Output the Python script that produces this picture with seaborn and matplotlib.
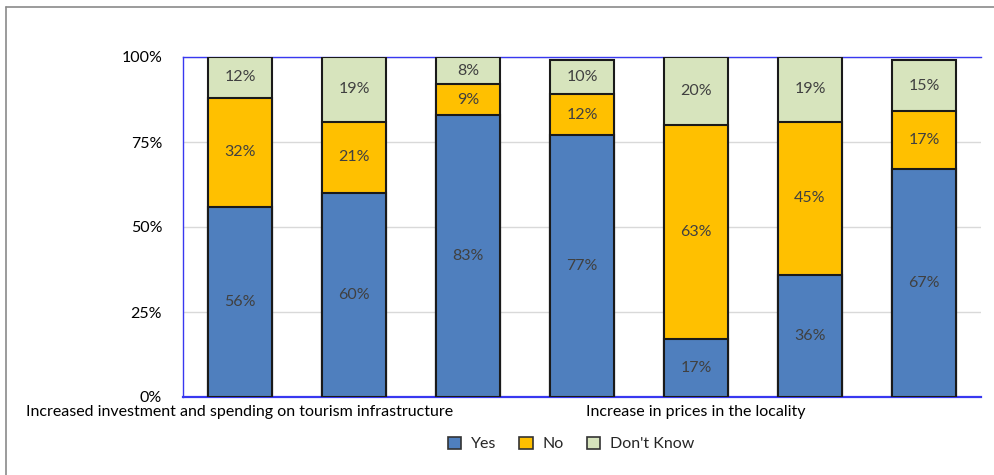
import matplotlib
matplotlib.use("Agg")
import matplotlib.pyplot as plt
from matplotlib.lines import Line2D
from matplotlib.patches import Patch
import seaborn as sns
import pandas as pd

# Survey responses per statement (percent)
statements = [
    "Increased investment and spending on tourism infrastructure",
    "Statement 2",
    "Statement 3",
    "Statement 4",
    "Increase in prices in the locality",
    "Statement 6",
    "Statement 7",
]
tick_labels = [
    "Increased investment and spending on tourism infrastructure",
    "", "", "",
    "Increase in prices in the locality",
    "", "",
]
yes = [56, 60, 83, 77, 17, 36, 67]
no = [32, 21, 9, 12, 63, 45, 17]
dont_know = [12, 19, 8, 10, 20, 19, 15]

series_names = ["Yes", "No", "Don't Know"]
colors = {"Yes": "#4F7FBE", "No": "#FFC000", "Don't Know": "#D7E4BD"}

df = pd.DataFrame({"statement": statements, "Yes": yes, "No": no, "Don't Know": dont_know})
df["cum_yes"] = df["Yes"]
df["cum_no"] = df["Yes"] + df["No"]
df["cum_dk"] = df["Yes"] + df["No"] + df["Don't Know"]

sns.set_theme(style="white")
plt.rcParams["font.family"] = ["Lato", "DejaVu Sans"]

fig = plt.figure(figsize=(9.94, 4.75), dpi=100)
ax = fig.add_axes([183 / 994, 1 - 397 / 475, (981 - 183) / 994, (397 - 57) / 475])

# Stacked bars: draw cumulative totals from the top segment down
for col, name in [("cum_dk", "Don't Know"), ("cum_no", "No"), ("cum_yes", "Yes")]:
    sns.barplot(data=df, x="statement", y=col, order=statements, color=colors[name],
                width=0.57, edgecolor="#1a1a1a", linewidth=1.5, saturation=1,
                ax=ax, zorder=3)

# Segment value labels
for i in range(len(statements)):
    base = 0
    for name in series_names:
        v = df.loc[i, name]
        ax.text(i, base + v / 2, f"{v}%", ha="center", va="center",
                fontsize=11.5, color="#404040", zorder=5)
        base += v

ax.set_ylim(0, 100)
ax.set_xlim(-0.5, len(statements) - 0.5)
ax.set_yticks([0, 25, 50, 75, 100])
ax.set_yticklabels(["0%", "25%", "50%", "75%", "100%"], fontsize=11.5, color="#000000")
ax.set_xticks(range(len(statements)))
ax.set_xticklabels(tick_labels, fontsize=11.5, color="#000000")
ax.tick_params(axis="y", length=0, pad=15)
ax.tick_params(axis="x", length=0, pad=6)
ax.set_xlabel("")
ax.set_ylabel("")

ax.yaxis.grid(True, color="#d9d9d9", linewidth=1, zorder=0)
ax.set_axisbelow(True)
for side in ["left", "top"]:
    ax.spines[side].set_color("#3838F0")
    ax.spines[side].set_linewidth(1.0)
ax.spines["bottom"].set_color("#3838F0")
ax.spines["bottom"].set_linewidth(1.6)
ax.spines["right"].set_visible(False)

handles = [Patch(facecolor=colors[n], edgecolor="#333333", linewidth=1.2, label=n) for n in series_names]
fig.legend(handles=handles, loc="center", bbox_to_anchor=(571 / 994, 1 - 444 / 475), ncol=3,
           frameon=False, fontsize=11.5, handlelength=0.85, handleheight=0.85,
           columnspacing=1.45, handletextpad=0.6)

# Figure frame on the left and top
fig.add_artist(Line2D([6 / 994, 6 / 994], [0, 1 - 7 / 475], transform=fig.transFigure,
                      color="#8a8a8a", linewidth=1.2))
fig.add_artist(Line2D([6 / 994, 1], [1 - 7 / 475, 1 - 7 / 475], transform=fig.transFigure,
                      color="#8a8a8a", linewidth=1.2))

fig.savefig("out.png", dpi=100)
